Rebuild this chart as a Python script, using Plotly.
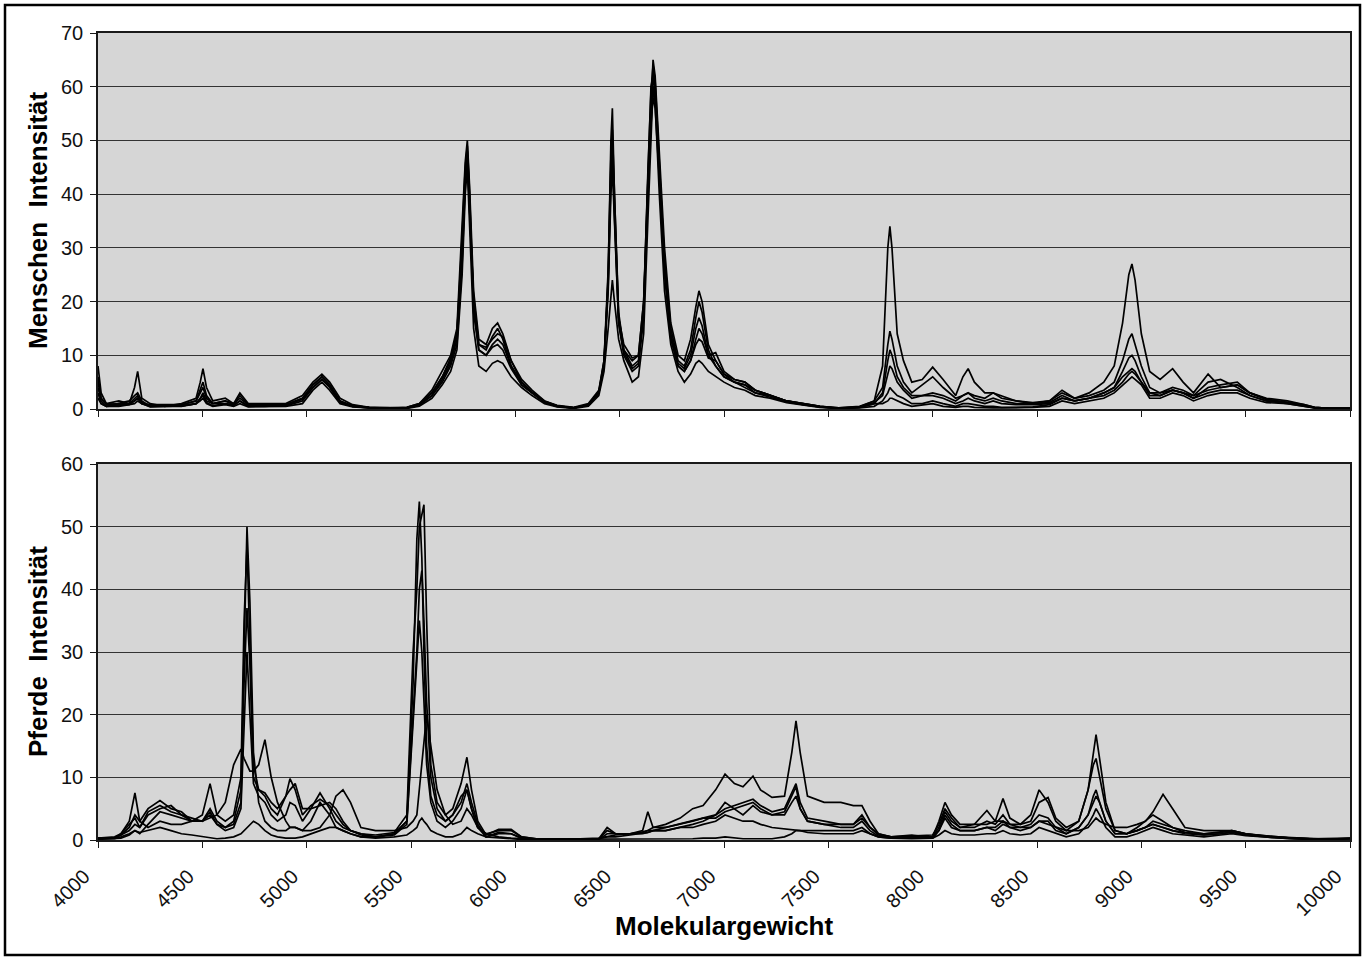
import plotly.graph_objects as go

# ---------------- Data ----------------
MW_TOP = [
    4000, 4015, 4040, 4100, 4150, 4175, 4190, 4210, 4250, 4320,
    4400, 4470, 4490, 4503, 4520, 4550, 4610, 4650, 4680, 4720,
    4800, 4900, 4980, 5030, 5073, 5110, 5160, 5220, 5300, 5400,
    5480, 5540, 5600, 5650, 5690, 5720, 5745, 5760, 5770, 5780,
    5800, 5825, 5860, 5890, 5915, 5940, 5980, 6030, 6080, 6140,
    6200, 6280, 6350, 6400, 6425, 6445, 6458, 6465, 6475, 6495,
    6520, 6560, 6590, 6615, 6635, 6650, 6660, 6670, 6690, 6715,
    6745, 6780, 6810, 6840, 6865, 6880, 6895, 6925, 6960, 7000,
    7050, 7100, 7150, 7220, 7300, 7380, 7460, 7550, 7650, 7720,
    7760, 7785, 7795, 7805, 7830, 7860, 7900, 7950, 8000, 8050,
    8110, 8145, 8170, 8200, 8250, 8290, 8330, 8400, 8480, 8560,
    8620, 8680, 8750, 8820, 8870, 8910, 8940, 8955, 8970, 9000,
    9040, 9090, 9150, 9200, 9250, 9320, 9380, 9460, 9520, 9600,
    9700, 9780, 9830, 9900, 10000,
]

MENSCHEN_1 = [
    8, 3, 1, 0.8, 1, 1.5, 2, 1, 0.8, 0.8,
    0.8, 1.5, 3.5, 5, 2.5, 1, 1.5, 1, 2, 0.8,
    0.8, 0.8, 2, 4.5, 6, 4.5, 1.5, 0.6, 0.3, 0.2,
    0.2, 0.8, 3, 6, 9, 14, 30, 44, 47, 38,
    20, 12, 11, 13.5, 15, 13, 8, 5, 3, 1.5,
    0.6, 0.2, 0.8, 3, 8, 25, 50, 56, 40, 18,
    11, 9, 10, 20, 45, 60, 62, 58, 45, 28,
    15, 9, 8, 11, 17, 20, 18, 11, 8, 6,
    5, 4.5, 3.5, 2.5, 1.5, 1, 0.5, 0.2, 0.5, 1.5,
    8, 30, 34, 30, 14, 9, 5, 5.5, 7.8, 5.5,
    2.5, 6, 7.5, 5, 3, 3, 2, 1.5, 1.2, 1.5,
    3, 2, 3, 5, 8, 16, 25, 27, 24, 14,
    7, 5.5, 7.5, 5, 3, 6.5, 4, 4.5, 3, 2,
    1.5, 0.8, 0.3, 0.1, 0.1,
]
MENSCHEN_2 = [
    6, 2, 1, 1.5, 1, 4, 7, 2, 1, 0.5,
    1, 2, 5, 7.5, 4, 1.5, 2, 1, 3, 1,
    1, 1, 2.5, 5, 6.5, 5, 2, 0.8, 0.3, 0.2,
    0.3, 1, 3.5, 7, 10, 15, 33, 46, 50, 42,
    22, 13, 12, 15, 16, 14, 9, 5.5, 3.5, 1.5,
    0.7, 0.3, 1, 3.5, 9, 24, 45, 50, 38, 17,
    11, 8, 9, 18, 42, 58, 65, 62, 48, 30,
    16, 10, 9, 13, 19, 22, 20, 12, 9, 6.5,
    5, 4, 3, 2.5, 1.5, 0.8, 0.4, 0.1, 0.4, 1.5,
    4, 12, 14.5, 13, 8, 5, 3, 4.5, 6, 4,
    2, 2.5, 3, 2.5, 2, 3, 2.5, 1.5, 1, 1.5,
    3.5, 2, 2.5, 3.5, 5, 9, 13, 14, 12, 8,
    4, 3, 4, 3.5, 2.5, 5, 5.5, 4, 2.5, 1.5,
    1.2, 0.7, 0.2, 0.1, 0.1,
]
MENSCHEN_3 = [
    4, 1.5, 0.5, 1, 1.5, 2.5, 3, 1.5, 0.5, 0.6,
    0.6, 1, 2, 3, 1.5, 1, 1, 0.8, 1.5, 0.6,
    0.6, 0.6, 1.5, 4, 5.5, 4, 1.2, 0.5, 0.2, 0.1,
    0.2, 0.7, 2.5, 5.5, 8.5, 13, 28, 43, 48, 40,
    18, 11, 10, 12, 13, 12, 8, 4.5, 3, 1.2,
    0.5, 0.2, 0.7, 3, 8, 22, 40, 45, 35, 16,
    10, 7, 8, 17, 40, 56, 63, 60, 44, 26,
    13, 8, 7, 9, 13, 15, 14, 10, 10.5, 7,
    5.5, 5, 3.5, 2.5, 1.5, 1, 0.5, 0.1, 0.3, 1,
    3, 9, 11, 10, 6, 4, 2.5, 2.5, 3, 2.5,
    1.5, 2.5, 3, 2, 1.5, 2, 1.5, 1, 1, 1.2,
    2.5, 1.5, 2, 3, 4, 7, 9.5, 10, 9, 6,
    3, 2.5, 3.5, 3, 2, 4, 4.5, 5, 3, 1.8,
    1.2, 0.6, 0.3, 0.1, 0.1,
]
MENSCHEN_4 = [
    3, 1, 0.5, 0.5, 0.8, 1, 1.5, 1, 0.5, 0.5,
    0.5, 1, 1.5, 2, 1, 0.5, 0.8, 0.5, 1, 0.4,
    0.5, 0.5, 1, 3.5, 5, 3.5, 1, 0.4, 0.2, 0.1,
    0.1, 0.5, 2, 4.5, 7, 11, 25, 40, 45, 35,
    15, 8, 7, 8.5, 9, 8.5, 6, 4, 2.5, 1,
    0.4, 0.1, 0.5, 2.5, 7, 15, 22, 24, 20, 13,
    9, 5, 6, 14, 35, 52, 60, 57, 40, 22,
    12, 7, 5, 6.5, 8.5, 9, 8.5, 7, 6, 5,
    4, 3.5, 2.5, 2, 1.2, 0.7, 0.3, 0.1, 0.2, 0.5,
    1.5, 3, 4, 3.5, 2.5, 2, 1, 1, 1.5, 1,
    0.5, 1, 1, 0.8, 0.5, 0.5, 0.3, 0.3, 0.4, 0.8,
    2, 1.5, 2, 2.5, 3.5, 5, 6.5, 7, 6.5, 5,
    2.5, 2.5, 3.5, 3, 2, 3, 3.5, 3.5, 2.5, 1.5,
    1, 0.5, 0.2, 0.1, 0.1,
]
MENSCHEN_5 = [
    5, 2, 0.8, 1, 1, 2, 2.5, 1.2, 0.6, 0.7,
    0.8, 1.5, 3, 4, 2, 1, 1.5, 0.8, 2.5, 0.8,
    0.8, 0.8, 2, 4.5, 6, 4.5, 1.5, 0.6, 0.3, 0.1,
    0.3, 1, 3, 6, 9.5, 14, 32, 45, 49, 41,
    19, 11, 10, 11.5, 12, 11, 7.5, 4.5, 3, 1.2,
    0.5, 0.2, 0.8, 3, 8.5, 23, 43, 48, 36, 16,
    10.5, 7.5, 8.5, 19, 44, 59, 64, 61, 46, 27,
    14, 8.5, 7.5, 10, 15, 17, 15.5, 10, 8, 6,
    5, 4.5, 3, 2.2, 1.3, 0.8, 0.4, 0.1, 0.3, 1,
    1, 1.5, 2, 2, 1.5, 1, 0.5, 0.8, 1, 0.5,
    0.3, 0.5, 0.5, 0.3, 0.2, 0.2, 0.2, 0.2, 0.3, 0.5,
    1.5, 1, 1.5, 2, 3, 4.5, 5.5, 6, 5.5, 4.5,
    2, 2, 3, 2.5, 1.5, 2.5, 3, 3, 2, 1.2,
    1, 0.5, 0.2, 0.1, 0.1,
]
MENSCHEN_6 = [
    2, 1, 0.5, 0.6, 0.8, 1.5, 2, 1, 0.4, 0.5,
    0.6, 1, 2, 2.5, 1.2, 0.6, 1, 0.6, 1.5, 0.5,
    0.5, 0.7, 1.8, 4, 5.5, 4.2, 1.3, 0.5, 0.2, 0.1,
    0.2, 0.8, 2.5, 5, 8, 12, 27, 42, 46, 37,
    21, 12, 11.5, 13, 14, 13.5, 9, 5, 3.2, 1.4,
    0.6, 0.2, 0.8, 3.2, 9, 26, 47, 52, 39, 17,
    12, 9.5, 10, 20, 40, 53, 58, 56, 43, 25,
    13.5, 8, 7, 9, 12, 13, 12.5, 9.5, 9, 6.5,
    5.5, 5, 3.5, 2.5, 1.5, 1, 0.5, 0.2, 0.4, 1.2,
    2.5, 6.5, 8, 7.5, 5, 3.5, 2, 2.5, 2.5, 2,
    1, 1.5, 2, 1.5, 1, 1.5, 1, 0.8, 0.8, 1,
    2, 1.5, 2, 3, 4, 6, 7, 7.5, 7, 5,
    3, 3, 3.5, 3, 2.5, 3.5, 4, 4.5, 3, 1.8,
    1.3, 0.8, 0.3, 0.1, 0.1,
]

MW_BOTTOM = [
    4000, 4080, 4110, 4150, 4177, 4200, 4240, 4297, 4350, 4400,
    4450, 4500, 4537, 4570, 4610, 4650, 4685, 4700, 4714, 4728,
    4745, 4770, 4800, 4830, 4860, 4900, 4920, 4945, 4980, 5020,
    5064, 5110, 5140, 5174, 5210, 5260, 5330, 5420, 5480, 5510,
    5528, 5540, 5552, 5562, 5575, 5595, 5625, 5665, 5700, 5740,
    5768, 5790, 5820, 5860, 5920, 5980, 6030, 6100, 6250, 6400,
    6440, 6480, 6550, 6610, 6635, 6660, 6720, 6790, 6850, 6900,
    6960, 7005, 7050, 7091, 7139, 7175, 7230, 7290, 7325, 7345,
    7365, 7400, 7480, 7560, 7620, 7661, 7700, 7740, 7800, 7900,
    8000, 8030, 8059, 8090, 8131, 8200, 8260, 8300, 8337, 8370,
    8420, 8470, 8510, 8553, 8590, 8640, 8700, 8745, 8770, 8783,
    8800, 8830, 8874, 8930, 8980, 9020, 9056, 9104, 9150, 9209,
    9300, 9380, 9434, 9500, 9616, 9720, 9808, 9900, 10000,
]

PFERDE_1 = [
    0.3, 0.5, 1, 3, 7.5, 3, 2, 3, 2.5, 2.5,
    3, 3, 4, 2.5, 2, 3, 8, 30, 50, 38,
    14, 6, 3, 2, 1.5, 1.5, 2, 2, 1.5, 3,
    6, 4, 2, 1.5, 1, 0.5, 0.5, 1, 3, 25,
    48, 54, 45, 30, 15, 7, 4, 3, 4, 7,
    8, 5, 2, 1, 1.5, 1.5, 0.5, 0.2, 0.1, 0.2,
    1.5, 1, 1, 1.2, 1.5, 2, 2.5, 3.5, 5, 5.5,
    8, 10.5, 9, 8.5, 10.2, 8, 6.8, 7, 14, 19,
    14, 7, 6, 6, 5.5, 5.5, 3, 1, 0.5, 0.5,
    0.5, 3, 6, 4, 2.5, 2.5, 2.5, 3, 6.6, 3.5,
    2.5, 4, 8, 6, 3, 1.5, 3, 8, 12, 13,
    10, 5, 1.5, 1, 1.5, 2, 2.5, 2, 1.5, 1.2,
    1, 1.2, 1.5, 1, 0.5, 0.3, 0.2, 0.1, 0.3,
]
PFERDE_2 = [
    0.3, 0.3, 0.8, 2, 4, 3, 5, 6.3, 5, 4.5,
    3, 4, 9, 4, 3, 4, 10, 35, 47, 30,
    12, 8, 7, 5, 4, 7, 8, 9, 5, 5,
    7.5, 5, 3, 2, 1.5, 1, 0.8, 1.2, 4, 30,
    40, 50, 52, 53.5, 35, 12, 6, 4, 5, 9,
    13.2, 8, 3, 0.8, 1.7, 1.7, 0.5, 0.2, 0.1, 0.2,
    2, 1, 1, 1, 1.2, 1.5, 1.5, 2, 2.5, 3,
    4, 5, 5.5, 6, 6.5, 5.5, 4.5, 5, 7.5, 9,
    6, 3.5, 3, 2.5, 2.5, 3.5, 2, 0.8, 0.5, 0.6,
    0.8, 2.5, 5, 3.5, 2, 2.5, 4.7, 3, 3, 2.5,
    2.5, 3, 6, 6.8, 3.5, 2, 3, 8, 14, 16.8,
    13, 6, 1.5, 1, 2, 3, 4, 3, 2, 1.5,
    1, 1.3, 1.5, 1, 0.6, 0.3, 0.2, 0.2, 0.3,
]
PFERDE_3 = [
    0.2, 0.3, 1, 2.5, 3.5, 2, 4.5, 5.5, 4.5, 4,
    3, 3, 5, 3, 2, 2.5, 6, 25, 37, 28,
    10, 8, 7.5, 6, 5, 7, 9.8, 8, 4, 5.5,
    6.5, 5.5, 4, 2.5, 1.5, 1, 0.5, 1, 3, 20,
    30, 40, 43, 35, 22, 10, 5, 3, 4, 6,
    9, 6, 2.5, 0.5, 1.2, 1, 0.3, 0.1, 0.1, 0.3,
    0.5, 0.8, 1, 1.5, 4.5, 2, 2, 2.5, 3, 3.5,
    3.5, 4.5, 5, 5.5, 6, 5, 4, 4.5, 7, 8.5,
    5, 3, 2.5, 2, 2, 3, 1.5, 0.6, 0.5, 0.5,
    0.5, 2, 4.5, 3, 2, 2, 3, 2.5, 4, 2.5,
    2, 2.5, 4, 3.5, 2, 1, 2, 4, 7, 8,
    6, 3, 1, 1, 1.5, 2, 3, 2.5, 2, 1.2,
    0.8, 1, 1.2, 0.8, 0.5, 0.3, 0.2, 0.1, 0.2,
]
PFERDE_4 = [
    0.3, 0.4, 0.8, 1.5, 2.5, 2, 4, 5, 5.5, 4,
    3.5, 3, 4.5, 2.5, 1.5, 2, 5, 18, 30, 20,
    9, 7, 6, 4, 3, 4, 6, 5.5, 3, 5,
    5.5, 6, 5, 3, 1.5, 0.8, 0.5, 0.8, 2.5, 18,
    28, 35, 30, 22, 12, 6, 3, 2, 3, 5,
    8, 5, 2, 0.5, 1, 1, 0.3, 0.1, 0.1, 0.2,
    0.5, 0.5, 0.8, 1, 1.2, 1.5, 2, 2.5, 3, 3.5,
    4, 6, 5, 4, 5.5, 4.5, 4, 4, 6, 7,
    5, 3, 2.5, 2.5, 2.5, 4, 2, 1, 0.5, 0.8,
    0.4, 1.5, 4, 2.5, 1.5, 1.5, 2, 2, 3, 2,
    1.5, 2, 3, 3, 1.5, 1, 2, 4, 6, 7,
    6, 3, 1, 1, 1.5, 2, 2.5, 2, 1.5, 1,
    0.8, 1, 1.3, 0.8, 0.4, 0.2, 0.1, 0.1, 0.2,
]
PFERDE_5 = [
    0.2, 0.2, 0.5, 1, 1.5, 1, 2.5, 4.5, 4, 3.5,
    3, 3, 3.5, 4, 6, 12, 14.5, 13, 12, 11,
    11, 12, 16, 10, 6, 3, 2, 2, 1.5, 1.5,
    2, 4, 7, 8, 6, 2, 1.5, 1.5, 2, 3,
    4, 8, 12, 16, 20, 15, 8, 4, 2.5, 3,
    5, 4, 2, 1, 0.5, 0.3, 0.2, 0.1, 0.1, 0.1,
    1, 1, 1, 1.3, 1.5, 1.5, 1.5, 2, 2, 2.5,
    3, 4, 3.5, 3, 3, 2.5, 2, 1.8, 1.6, 1.5,
    1.5, 1.5, 1.5, 1.5, 1.5, 2, 1, 0.5, 0.3, 0.3,
    0.3, 1.5, 3.5, 2, 1.5, 1.5, 2, 1.5, 2.5, 2,
    2, 2, 3, 2.5, 2, 1.5, 1.5, 2, 3, 3.5,
    3, 2.5, 2, 2, 2.5, 3, 4.5, 7.3, 5, 2,
    1.5, 1.5, 1.5, 1, 0.6, 0.4, 0.2, 0.1, 0.2,
]
PFERDE_6 = [
    0.1, 0.2, 0.3, 0.8, 1.5, 1.2, 1.5, 2, 1.5, 1,
    0.8, 0.5, 0.3, 0.2, 0.3, 0.5, 1, 1.5, 2, 2.5,
    3, 2.5, 1.5, 0.8, 0.5, 0.3, 0.3, 0.3, 0.5, 1,
    1.5, 2, 2, 1.5, 1, 0.5, 0.3, 0.5, 0.8, 1.5,
    2, 3, 3.5, 3, 2.5, 1.5, 1, 0.5, 0.5, 1,
    2, 1.5, 1, 0.5, 0.3, 0.2, 0.1, 0.1, 0.1, 0.1,
    0.1, 0.1, 0.2, 0.2, 0.2, 0.2, 0.2, 0.2, 0.2, 0.3,
    0.3, 0.5, 0.3, 0.2, 0.2, 0.2, 0.2, 0.5, 1, 1.5,
    1.5, 1.2, 1, 1, 1, 1.5, 1, 0.5, 0.3, 0.2,
    0.3, 0.8, 1.5, 1, 0.8, 0.8, 1, 1, 1.5, 1,
    0.8, 1, 2, 1.5, 1, 0.5, 1, 2.5, 4, 5,
    4, 2, 0.5, 0.5, 1, 1.5, 2, 1.5, 1, 0.8,
    0.5, 0.8, 1, 0.7, 0.4, 0.2, 0.1, 0.1, 0.2,
]

X_TICKS = [4000, 4500, 5000, 5500, 6000, 6500, 7000, 7500,
           8000, 8500, 9000, 9500, 10000]
X_TICK_LABELS = [str(v) for v in X_TICKS]

TITLE_TOP = "Menschen  Intensität"
TITLE_BOTTOM = "Pferde  Intensität"
TITLE_X = "Molekulargewicht"

# ---------------- Figure ----------------
W, H = 1368, 958
FONT = "Liberation Sans, Arial, sans-serif"

fig = go.Figure()

for ys in [MENSCHEN_1, MENSCHEN_2, MENSCHEN_3, MENSCHEN_4, MENSCHEN_5, MENSCHEN_6]:
    fig.add_trace(go.Scatter(x=MW_TOP, y=ys, mode="lines", xaxis="x", yaxis="y",
                             line=dict(color="#000000", width=1.7),
                             showlegend=False, hoverinfo="skip"))

for ys in [PFERDE_1, PFERDE_2, PFERDE_3, PFERDE_4, PFERDE_5, PFERDE_6]:
    fig.add_trace(go.Scatter(x=MW_BOTTOM, y=ys, mode="lines", xaxis="x2", yaxis="y2",
                             line=dict(color="#000000", width=1.7),
                             showlegend=False, hoverinfo="skip"))

def px_x(p):
    return p / W

def px_y(p):
    return 1 - p / H

x_dom = [px_x(98), px_x(1350)]
top_dom = [px_y(409), px_y(33)]
bot_dom = [px_y(840), px_y(464)]

axis_common = dict(
    showline=True, linecolor="#1a1a1a", linewidth=1.5, mirror=True,
    ticks="outside", ticklen=6, tickwidth=1, tickcolor="#1a1a1a",
    zeroline=False, automargin=False,
)

fig.update_layout(
    width=W, height=H,
    margin=dict(l=0, r=0, t=0, b=0, pad=0, autoexpand=False),
    paper_bgcolor="white",
    plot_bgcolor="#d6d6d6",
    font=dict(family=FONT, color="#111111", size=19),
    xaxis=dict(domain=x_dom, anchor="y", range=[4000, 10000],
               tickvals=X_TICKS, showticklabels=False, showgrid=False,
               **axis_common),
    yaxis=dict(domain=top_dom, anchor="x", range=[0, 70], dtick=10,
               showgrid=True, gridcolor="#333333", gridwidth=1,
               tickfont=dict(size=20), ticklabelstandoff=3,
               **axis_common),
    xaxis2=dict(domain=x_dom, anchor="y2", range=[4000, 10000],
                tickvals=X_TICKS, ticktext=X_TICK_LABELS, tickangle=-45,
                showgrid=False, tickfont=dict(size=20),
                ticklabelstandoff=9, ticklabelshift=-14,
                **axis_common),
    yaxis2=dict(domain=bot_dom, anchor="x2", range=[0, 60], dtick=10,
                showgrid=True, gridcolor="#333333", gridwidth=1,
                tickfont=dict(size=20), ticklabelstandoff=3,
                **axis_common),
    annotations=[
        dict(text=f"<b>{TITLE_TOP}</b>", xref="paper", yref="paper",
             x=px_x(38), y=(top_dom[0] + top_dom[1]) / 2, textangle=-90,
             showarrow=False, font=dict(size=26, family=FONT, color="#000000"),
             xanchor="center", yanchor="middle"),
        dict(text=f"<b>{TITLE_BOTTOM}</b>", xref="paper", yref="paper",
             x=px_x(38), y=(bot_dom[0] + bot_dom[1]) / 2, textangle=-90,
             showarrow=False, font=dict(size=26, family=FONT, color="#000000"),
             xanchor="center", yanchor="middle"),
        dict(text=f"<b>{TITLE_X}</b>", xref="paper", yref="paper",
             x=(x_dom[0] + x_dom[1]) / 2, y=px_y(926),
             showarrow=False, font=dict(size=26, family=FONT, color="#000000"),
             xanchor="center", yanchor="middle"),
    ],
    shapes=[
        dict(type="rect", xref="paper", yref="paper",
             x0=px_x(5), x1=px_x(1360), y0=px_y(955), y1=px_y(5),
             line=dict(color="#000000", width=2.5), fillcolor="rgba(0,0,0,0)",
             layer="above"),
    ],
)

fig.write_html("out.html")
